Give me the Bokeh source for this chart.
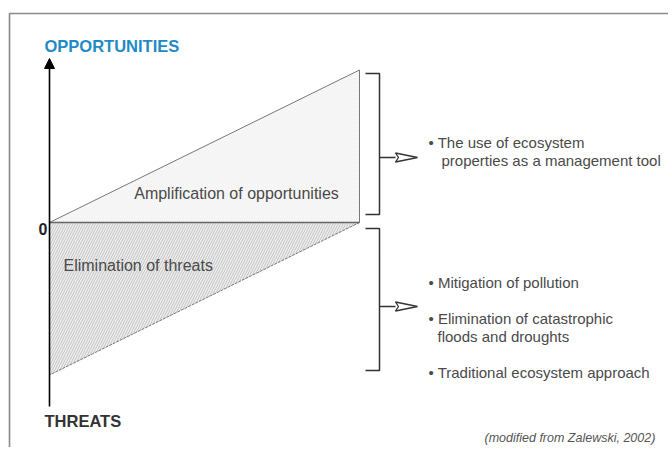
from bokeh.plotting import figure
from bokeh.models import Range1d, Arrow, NormalHead, Label
from bokeh.embed import file_html
from bokeh.resources import INLINE

# ---- data (conceptual diagram values) ----
effort = [0, 10]            # x extent: intensity of ecohydrological management
opportunities = [0, 1.0]    # upper boundary rises from 0 to maximum opportunities
threats = [-1.0, 0]         # lower boundary rises from maximum threats to 0
axis_labels = ["OPPORTUNITIES", "THREATS", "0"]
region_labels = ["Amplification of opportunities", "Elimination of threats"]
upper_outcomes = ["\u2022 The use of ecosystem", "properties as a management tool"]
lower_outcomes = ["\u2022 Mitigation of pollution", "\u2022 Elimination of catastrophic",
                  "floods and droughts", "\u2022 Traditional ecosystem approach"]
source_note = "(modified from Zalewski, 2002)"

# ---- layout ----
W, H = 668, 447
OX, OY = 0, 0
SX, SY = 31.0, 152.5
x_lo = -(49 - OX) / SX
x_hi = x_lo + W / SX
y_hi = (222 - OY) / SY
y_lo = y_hi - H / SY


def X(px):
    return x_lo + (px - OX) / SX


def Y(py):
    return y_hi - (py - OY) / SY


p = figure(width=W, height=H, output_backend="svg", toolbar_location=None,
           x_range=Range1d(x_lo, x_hi), y_range=Range1d(y_lo, y_hi),
           min_border=0, outline_line_color=None)
p.axis.visible = False
p.grid.visible = False
p.background_fill_color = "white"

# frame of the original figure
p.line([X(9), X(9), X(700)], [Y(470), Y(13), Y(13)], line_color="#8a8a8a", line_width=1.6)

# upper triangle: amplification of opportunities
p.patch([effort[0], effort[1], effort[1]], [opportunities[0], opportunities[1], 0],
        fill_color="#f9f9f9", line_color="#777777", line_width=1,
        hatch_pattern="/", hatch_color="#ebebeb", hatch_scale=4, hatch_weight=0.6)

# lower triangle: elimination of threats
p.patch([effort[0], effort[1], effort[0]], [0, 0, threats[0]],
        fill_color="#efefef", line_color=None,
        hatch_pattern="/", hatch_color="#bcbcbc", hatch_scale=5, hatch_weight=0.9)
p.line([effort[1], effort[0]], [threats[1], threats[0]], line_color="#777777",
       line_width=1, line_dash="3 1")
p.line([effort[0], effort[1]], [0, 0], line_color="#666666", line_width=1.5)

# vertical axis with arrow
p.add_layout(Arrow(end=NormalHead(size=10, fill_color="black", line_color="black"),
                   x_start=0, y_start=Y(406), x_end=0, y_end=Y(58),
                   line_color="black", line_width=1.6))

# brackets
def bracket(top, bottom, arrow_y):
    p.line([X(365), X(379), X(379), X(365)], [Y(top), Y(top), Y(bottom), Y(bottom)],
           line_color="#333333", line_width=1.5)
    p.line([X(379), X(395)], [Y(arrow_y), Y(arrow_y)], line_color="#333333", line_width=1.5)
    p.patch([X(395), X(417), X(395), X(398)],
            [Y(arrow_y - 4.5), Y(arrow_y), Y(arrow_y + 4.5), Y(arrow_y)],
            fill_color="white", line_color="#333333", line_width=1.3)

bracket(73, 214, 157)
bracket(228, 370, 306)

# texts
FONT = "Liberation Sans"
TXT = "#4a4a4a"

def lab(px, py, text, size="15px", color=TXT, style="normal", align="left"):
    p.add_layout(Label(x=X(px), y=Y(py), text=text, text_font=FONT,
                       text_font_size=size, text_color=color, text_font_style=style,
                       text_baseline="middle", text_align=align))

lab(44, 45, axis_labels[0], size="16.5px", color="#1f8bc6", style="bold")
lab(44, 420, axis_labels[1], size="16.5px", color="#333333", style="bold")
lab(47, 228, axis_labels[2], size="16px", color="#222222", style="bold", align="right")

lab(236, 193, region_labels[0], size="16px", align="center")
lab(63, 265, region_labels[1], size="16px")

lab(428, 142, upper_outcomes[0])
lab(441, 160, upper_outcomes[1])

lab(428, 282, lower_outcomes[0])
lab(428, 318, lower_outcomes[1])
lab(437, 336, lower_outcomes[2])
lab(428, 372, lower_outcomes[3])

lab(484, 437, source_note, size="12.5px", color="#555555", style="italic")

open("out.html", "w").write(file_html(p, INLINE))
